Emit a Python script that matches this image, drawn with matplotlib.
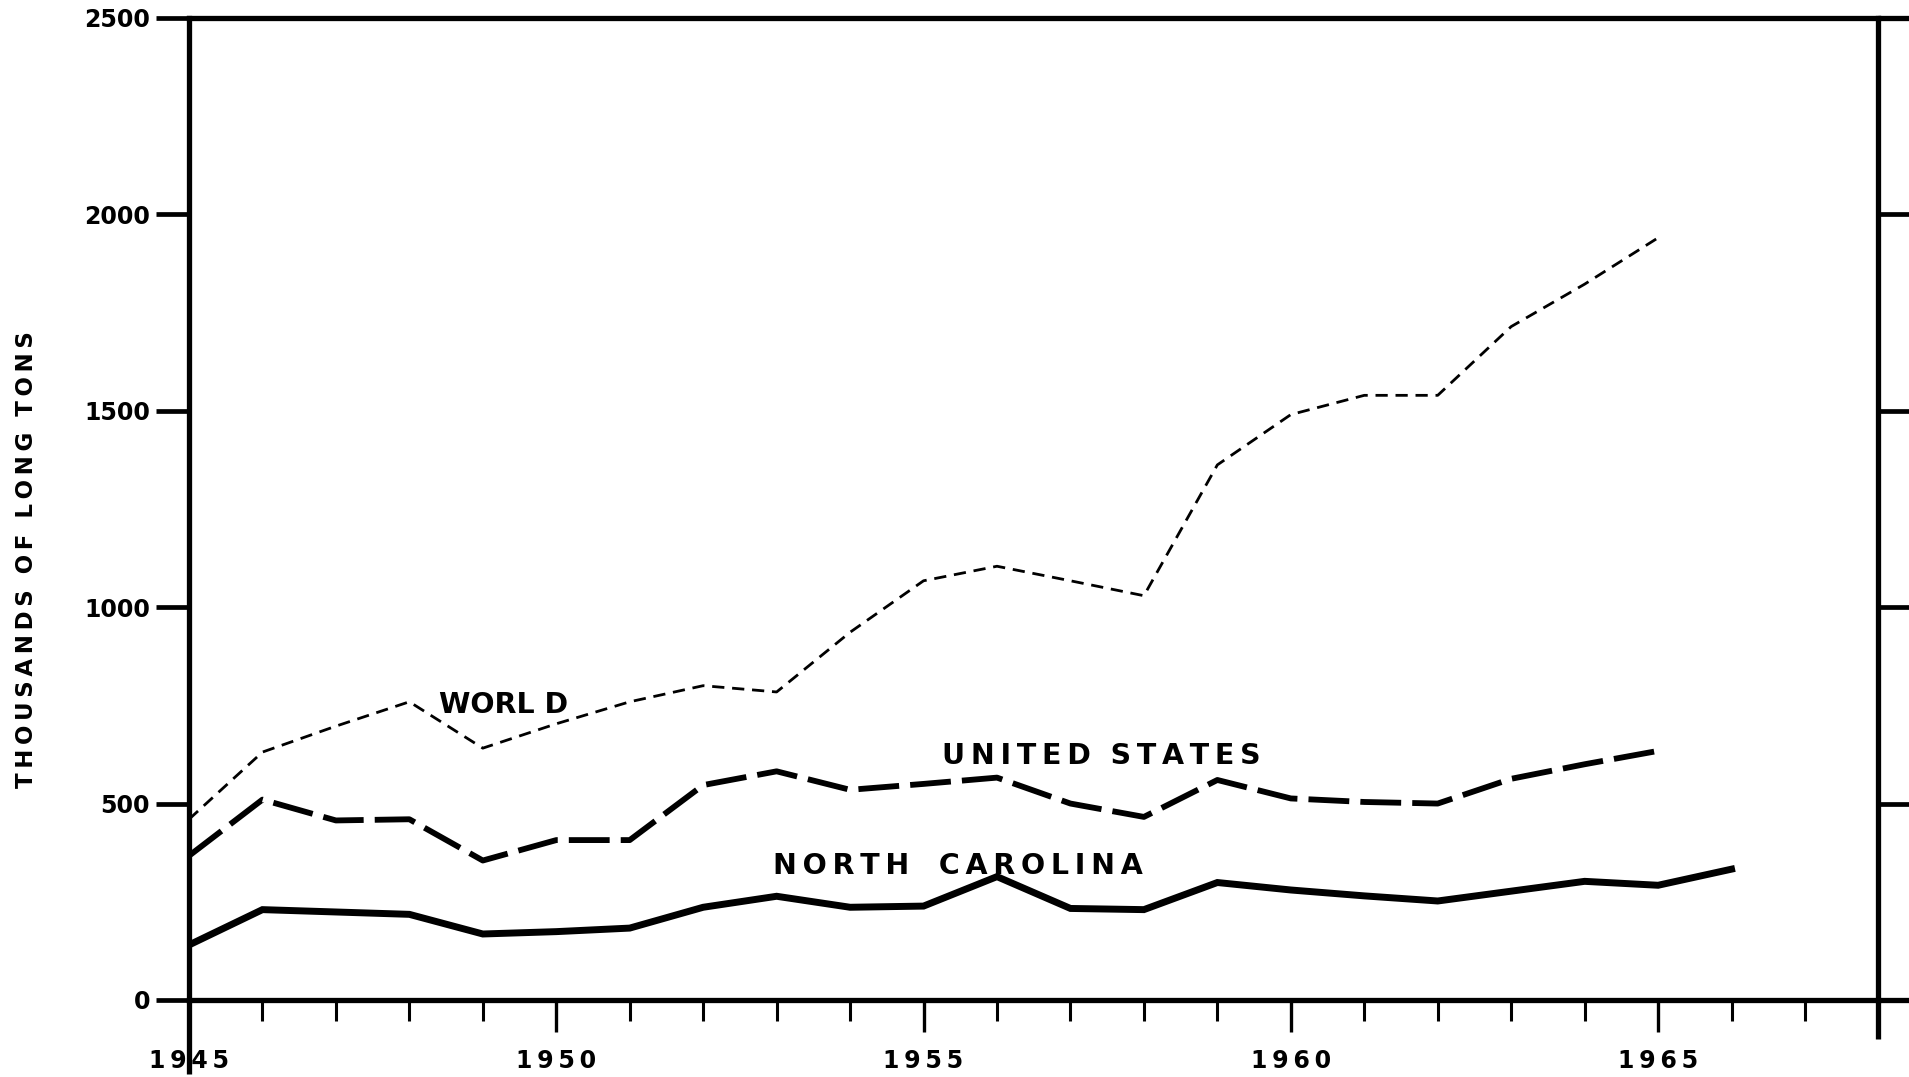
import numpy as np
import matplotlib.pyplot as plt
from matplotlib.ticker import MultipleLocator

# ---- data (thousands of long tons) ----
world_years = list(range(1945, 1966))
world = [460, 631, 697, 759, 641, 703, 759, 800, 784, 936, 1067,
         1104, 1067, 1029, 1362, 1490, 1539, 1539, 1714, 1822, 1940]

us_years = list(range(1945, 1966))
us = [367, 510, 457, 460, 355, 407, 407, 547, 582, 535, 550,
      566, 500, 466, 560, 513, 504, 500, 563, 600, 634]

nc_years = list(range(1945, 1967))
nc = [140, 230, 224, 218, 168, 174, 183, 236, 264, 236, 239,
      314, 233, 230, 299, 280, 265, 252, 277, 302, 292, 333]

year_labels = [1945, 1950, 1955, 1960, 1965]
ton_ticks = [0, 500, 1000, 1500, 2000, 2500]

# spaced-out lettering like the original typed labels
def spaced(s, gap="\u2009"):
    return gap.join(s)

plt.rcParams['font.family'] = 'DejaVu Sans'
fig = plt.figure(figsize=(19.09, 10.77), dpi=100)
ax = fig.add_axes([0.099, 0.0715, 0.885, 0.912])

# ---- series ----
ax.plot(nc_years, nc, color='black', lw=5.0, solid_joinstyle='miter')
ax.plot(us_years, us, color='black', lw=4.2, dashes=(7.0, 1.9))
ax.plot(world_years, world, color='black', lw=2.0, dashes=(4.4, 2.8))

# ---- labels on the lines ----
lab = dict(fontsize=20.5, fontweight='bold', color='black', va='center', ha='left')
ax.text(1948.4, 752, "WORL D", **lab)
ax.text(1955.25, 622, spaced("UNITED") + "  " + spaced("STATES"), **lab)
ax.text(1952.95, 340, spaced("NORTH") + "   " + spaced("CAROLINA"), **lab)

# ---- axes ----
ax.set_xlim(1945, 1968)
ax.set_ylim(0, 2500)
for s in ax.spines.values():
    s.set_linewidth(3.8)

ax.xaxis.set_major_locator(MultipleLocator(5))
ax.xaxis.set_minor_locator(MultipleLocator(1))
ax.set_xticks(year_labels)
ax.set_xticklabels([spaced(str(y)) for y in year_labels],
                   fontsize=17, fontweight='bold')
ax.set_yticks(ton_ticks)
ax.set_yticklabels([str(v) for v in ton_ticks],
                   fontsize=17, fontweight='bold')

ax.tick_params(axis='x', which='major', direction='out', length=23, width=2.4, pad=12)
ax.tick_params(axis='x', which='minor', direction='out', length=15, width=2.2)
ax.tick_params(axis='y', which='major', direction='out', length=24, width=3.4, pad=4,
               right=True, labelright=False)

# spine extensions as drawn on the original sheet
ext = dict(color='black', lw=3.8, transform=ax.transAxes, clip_on=False,
           solid_capstyle='butt')
ax.plot([1.0, 1.03], [1.0, 1.0], **ext)
ax.plot([1.0, 1.03], [0.0, 0.0], **ext)
ax.plot([0.0, 0.0], [0.0, -0.075], **ext)
ax.plot([1.0, 1.0], [0.0, -0.04], **ext)

fig.text(0.014, 0.48, spaced("THOUSANDS") + "  " + spaced("OF") + "  " +
         spaced("LONG") + "  " + spaced("TONS"),
         rotation=90, fontsize=16.5, fontweight='bold', va='center', ha='center')

plt.savefig("out.png", dpi=100)
